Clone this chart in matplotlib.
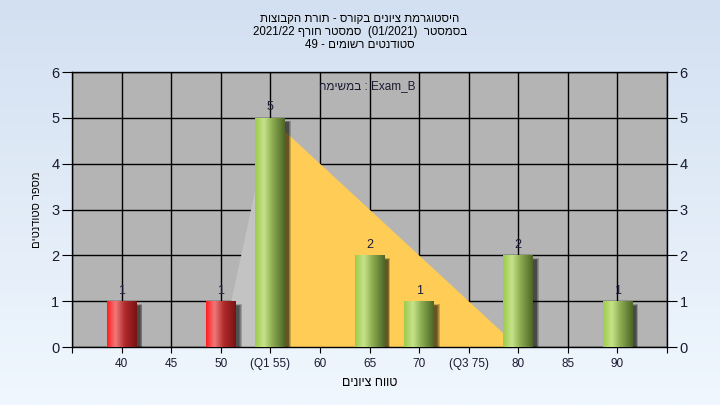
import re
import numpy as np
import matplotlib.pyplot as plt
from matplotlib.colors import LinearSegmentedColormap
from matplotlib.patches import Rectangle

plt.rcParams['font.family'] = ['Liberation Sans', 'DejaVu Sans']

# data
grades = [40, 50, 55, 65, 70, 80, 90]
counts = [1, 1, 5, 2, 1, 2, 1]
tick_values = [40, 45, 50, 55, 60, 65, 70, 75, 80, 85, 90]
tick_labels = ['40', '45', '50', '(Q1 55)', '60', '65', '70', '(Q3 75)', '80', '85', '90']
ramp_x = [50, 55]
ramp_y = [0, 5]
spread_x = [55, 80]
spread_y = [5, 0]
pass_mark = 55

title_lines = ['היסטוגרמת ציונים בקורס - תורת הקבוצות',
               'בסמסטר  (01/2021)  סמסטר חורף 2021/22',
               'סטודנטים רשומים - 49']
series_name = 'Exam_B : במשימה'
xlabel = 'טווח ציונים'
ylabel = 'מספר סטודנטים'


def rtl(s):
    # matplotlib has no bidi support: lay the text out in visual order
    s = s[::-1]
    s = re.sub(r'[A-Za-z0-9_/.]+', lambda m: m.group(0)[::-1], s)
    return s.translate(str.maketrans('()', ')('))


fig = plt.figure(figsize=(7.2, 4.05), dpi=100)

# light blue gradient background
bg = fig.add_axes([0, 0, 1, 1], zorder=-1)
bg_cmap = LinearSegmentedColormap.from_list('bg', ['#d3e0f1', '#f0f7fe'])
bg.imshow(np.linspace(0, 1, 256).reshape(-1, 1), cmap=bg_cmap, aspect='auto',
          extent=(0, 1, 0, 1))
bg.axis('off')

ax = fig.add_axes([0.1, 0.1432, 0.8264, 0.679])
ax.set_facecolor('#b4b4b4')
ax.set_axisbelow(True)

ax.fill_between(ramp_x, ramp_y, color='#c3c3c3', lw=0, zorder=2)
ax.fill_between(spread_x, spread_y, color='#ffcc55', lw=0, zorder=2)

green = LinearSegmentedColormap.from_list('g', [(0, '#9ccb4c'), (0.3, '#c6e38a'),
                                                (0.55, '#93b356'), (1, '#4b6626')])
red = LinearSegmentedColormap.from_list('r', [(0, '#ff1c1c'), (0.28, '#f07a7a'),
                                              (0.6, '#b02a2a'), (1, '#7a1212')])

bw = 3.0
bars = ax.bar(grades, counts, width=bw, color='none', lw=0, zorder=5)
grad = np.linspace(0, 1, 128).reshape(1, -1)
for patch, g, c in zip(bars, grades, counts):
    x0, w, h = patch.get_x(), patch.get_width(), patch.get_height()
    # soft drop shadow
    for s in [0.25, 0.16, 0.08, 0.0]:
        ax.add_patch(Rectangle((x0 + 0.35 - s, -0.08), w + 2 * s,
                               h - 0.1 + 0.08 + s * 0.15,
                               facecolor='black', alpha=0.2, lw=0, zorder=3))
    im = ax.imshow(grad, cmap=green if g >= pass_mark else red,
                   extent=(x0, x0 + w, 0, h), aspect='auto',
                   interpolation='bicubic', zorder=4)
    im.set_clip_path(patch)
    ax.text(g, c + 0.1, str(c), ha='center', va='bottom', fontsize=9,
            color='#1c1c3c', zorder=6)

ax.set_xlim(35, 95)
ax.set_ylim(0, 6)
ax.set_xticks(np.arange(35, 96, 5))
ax.set_xticklabels([tick_labels[tick_values.index(v)] if v in tick_values else ''
                    for v in range(35, 96, 5)])
ax.set_yticks(range(0, 7))
ax.grid(True, color='black', lw=1)
ax.tick_params(axis='x', direction='out', length=4, labelsize=8.5,
               labelcolor='#1a1a30', pad=4)
ax.tick_params(axis='y', direction='out', length=7, labelsize=10.5,
               labelcolor='#1a1a30', right=True, labelright=True, pad=2)
for sp in ax.spines.values():
    sp.set_color('black')
    sp.set_linewidth(1)

ax.text(64.8, 5.69, rtl(series_name), ha='center', va='center', fontsize=8.5,
        color='#1a1a30', zorder=6)

ax.set_xlabel(rtl(xlabel), fontsize=9, labelpad=5)
ax.set_ylabel(rtl(ylabel), fontsize=8, labelpad=7)

fig.text(0.5, 0.968, '\n'.join(rtl(t) for t in title_lines), ha='center',
         va='top', fontsize=8.3, linespacing=1.12)

fig.savefig('out.png', dpi=100)
